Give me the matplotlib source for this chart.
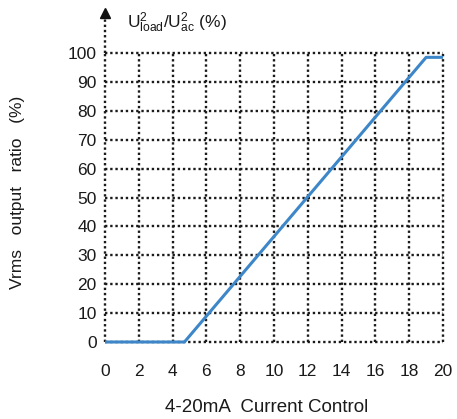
import matplotlib
matplotlib.use("Agg")
import matplotlib.pyplot as plt

# data
current_ma = [0, 4.7, 19, 20]
ratio_pct = [0, 0, 98.5, 98.5]
x_ticks = [0, 2, 4, 6, 8, 10, 12, 14, 16, 18, 20]
y_ticks = [0, 10, 20, 30, 40, 50, 60, 70, 80, 90, 100]

plt.rcParams['font.family'] = ['Liberation Sans', 'DejaVu Sans']
plt.rcParams['mathtext.fontset'] = 'custom'
plt.rcParams['mathtext.rm'] = 'Liberation Sans'
plt.rcParams['mathtext.it'] = 'Liberation Sans'

W, H = 457, 419
fig = plt.figure(figsize=(W/100, H/100), dpi=100)
ax = fig.add_axes([105/W, 1-342/H, (443-105)/W, (342-53)/H])

ax.set_xlim(0, 20)
ax.set_ylim(0, 100)
ax.set_xticks(x_ticks)
ax.set_yticks(y_ticks)
for s in ax.spines.values():
    s.set_visible(False)

dot = (0, (1, 1.2))
gridc = '#1a1a1a'
for xv in x_ticks:
    ax.axvline(xv, color=gridc, lw=1.7, linestyle=dot, zorder=1, clip_on=False)
for yv in y_ticks:
    ax.axhline(yv, color=gridc, lw=1.7, linestyle=dot, zorder=1, clip_on=False)

# y-axis extension with arrow
ax.plot([0, 0], [100, 112], color=gridc, lw=1.7, linestyle=dot, clip_on=False, zorder=1)
ax.plot([0], [113.8], marker='^', color='#111111', markersize=7, clip_on=False, zorder=3)

ax.plot(current_ma, ratio_pct, color='#3d87c9', lw=2.2, zorder=2, solid_capstyle='butt', clip_on=False)

fs = 12.5
ax.tick_params(length=0, labelsize=fs, colors='#1a1a1a')
ax.tick_params(axis='x', pad=15.5)
ax.tick_params(axis='y', pad=6)

ax.set_xlabel('4-20mA  Current Control', fontsize=13.5, color='#1a1a1a', va='center')
ax.xaxis.set_label_coords((267-105)/338, (342-408)/289)
ax.set_ylabel('Vrms   output   ratio   (%)', fontsize=fs, color='#1a1a1a', va='center')
ax.yaxis.set_label_coords((18-105)/338, (342-192)/289)

fig.text(127/W, 1-28/H, r'$\mathregular{U^{2}_{load}/U^{2}_{ac}}$ (%)',
         fontsize=fs, color='#1a1a1a', va='baseline', ha='left')

fig.savefig('out.png', dpi=100)
